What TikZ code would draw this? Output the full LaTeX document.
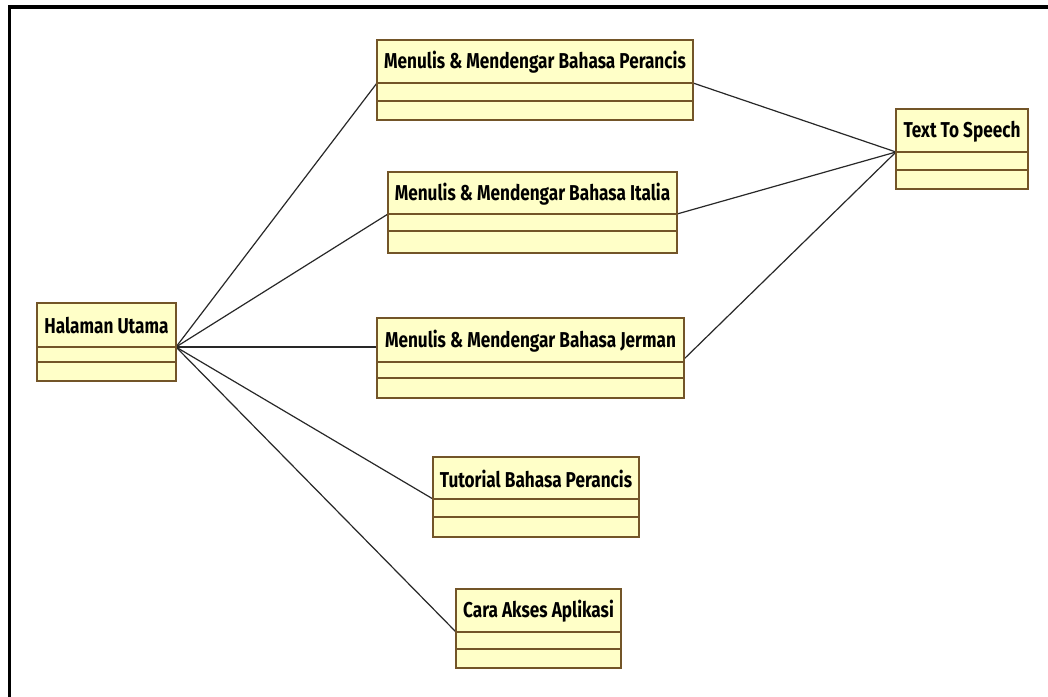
\documentclass[tikz,border=0pt]{standalone}
\usepackage{fontspec}
\setmainfont{Fira Sans}[FakeStretch=0.8]
\usetikzlibrary{calc}
\definecolor{classfill}{RGB}{255,255,200}
\definecolor{classline}{RGB}{115,85,40}
\definecolor{linkcol}{RGB}{40,40,40}
\tikzset{
  classbox/.style={draw=classline, fill=classfill, line width=2pt, rectangle,
    inner sep=0pt, outer sep=0pt, anchor=north west},
  divider/.style={draw=classline, line width=2pt},
  classtitle/.style={font=\bfseries\fontsize{21.5}{21.5}\selectfont, inner sep=0pt, text=black},
  link/.style={draw=linkcol, line width=1.2pt},
  frame/.style={draw=black, line width=3.5pt},
}
% #1 name, #2 left, #3 top, #4 right, #5 bottom, #6 first divider, #7 second divider, #8 title
\newcommand\umlclass[8]{%
  \node[classbox, minimum width={#4-#2}, minimum height={#5-#3}] (#1) at (#2,#3) {};
  \coordinate (#1-l) at (#2,#6);
  \coordinate (#1-r) at (#4,#6);
  \coordinate (#1-l2) at (#2,#7);
  \coordinate (#1-r2) at (#4,#7);
  \draw[divider] (#1-l) -- (#1-r);
  \draw[divider] (#1-l2) -- (#1-r2);
  \node[classtitle] (#1-t) at ({(#2+#4)/2},{(#3+#6)/2+1}) {#8};
}
\begin{document}
\begin{tikzpicture}[x=1pt, y=-1pt]
  \useasboundingbox (0,0) rectangle (1048,696);
  \fill[white] (0,0) rectangle (1048,696);
  % outer frame (left and top edges)
  \coordinate (fr-bl) at (9.5,700);
  \coordinate (fr-tl) at (9.5,7);
  \coordinate (fr-tr) at (1052,7);
  \draw[frame] (fr-bl) -- (fr-tl) -- (fr-tr);

  % connection points
  \coordinate (hal-r) at (176,347);
  \coordinate (per-l) at (377,83);
  \coordinate (per-r) at (693,83);
  \coordinate (ita-l) at (388,214);
  \coordinate (ita-r) at (677,214);
  \coordinate (jer-l) at (377,347);
  \coordinate (jer-r) at (681,362);
  \coordinate (tut-l) at (433,499);
  \coordinate (car-l) at (456,632);
  \coordinate (tts-l) at (896,152);

  % associations
  \draw[link] (hal-r) -- (per-l);
  \draw[link] (hal-r) -- (ita-l);
  \draw[link] (hal-r) -- (jer-l);
  \draw[link] (hal-r) -- (tut-l);
  \draw[link] (hal-r) -- (car-l);
  \draw[link] (per-r) -- (tts-l);
  \draw[link] (ita-r) -- (tts-l);
  \draw[link] (jer-r) -- (tts-l);

  % classes
  \umlclass{hal}{37}{303}{176}{381}{347}{362}{Halaman Utama}
  \umlclass{per}{377}{40}{693}{120}{83}{101}{Menulis \& Mendengar Bahasa Perancis}
  \umlclass{ita}{388}{172}{677}{253}{214}{231}{Menulis \& Mendengar Bahasa Italia}
  \umlclass{jer}{377}{318}{684}{398}{362}{378}{Menulis \& Mendengar Bahasa Jerman}
  \umlclass{tut}{433}{457}{639}{537}{499}{517}{Tutorial Bahasa Perancis}
  \umlclass{car}{456}{589}{621}{668}{632}{649}{Cara Akses Aplikasi}
  \umlclass{tts}{896}{109}{1028}{189}{152}{170}{Text To Speech}
\end{tikzpicture}
\end{document}
